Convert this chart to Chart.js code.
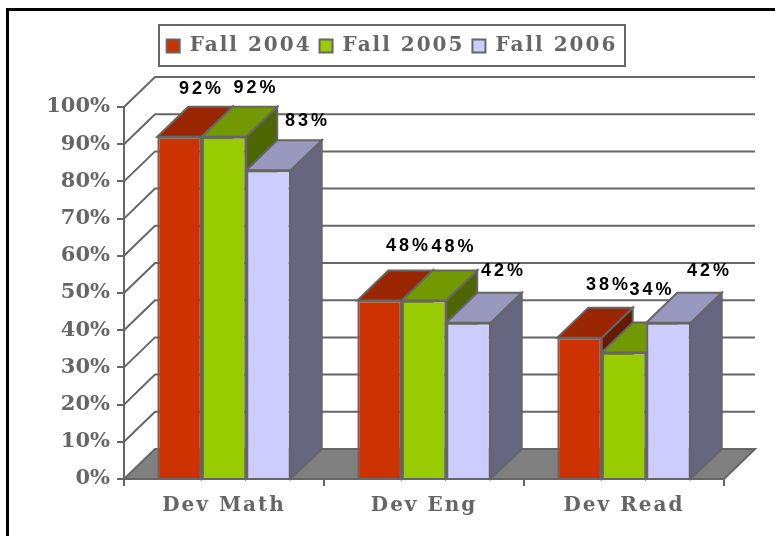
<!DOCTYPE html>
<html>
<head>
<meta charset="utf-8">
<style>
  html, body { margin: 0; padding: 0; background: #fff; }
  canvas { display: block; }
</style>
<script src="https://cdn.jsdelivr.net/npm/chart.js@4"></script>
</head>
<body>
<canvas id="chart" width="775" height="536"></canvas>
<script>
const categories = ['Dev Math', 'Dev Eng', 'Dev Read']
const fall2004 = [92, 48, 38]
const fall2005 = [92, 48, 34]
const fall2006 = [83, 42, 42]
const yTicks = [0, 10, 20, 30, 40, 50, 60, 70, 80, 90, 100]

const grey = '#666666'
const depthX = 31
const depthY = 30

// lighter/darker faces of the fake 3D bars
const faces = [
    { top: '#992600', side: '#661a00' },
    { top: '#739900', side: '#4d6600' },
    { top: '#9999bf', side: '#666680' }
]

// label placement relative to each bar's front-top centre, per dataset/category
const labelShift = [
    [[22, -48], [29, -54], [29, -53]],
    [[32, -49], [30, -53], [28, -62]],
    [[39, -49], [35, -52], [41, -52]]
]

const poly = (ctx, pts, fill) => {
    ctx.beginPath()
    pts.forEach((p, i) => i ? ctx.lineTo(p[0], p[1]) : ctx.moveTo(p[0], p[1]))
    ctx.closePath()
    ctx.fillStyle = fill
    ctx.fill()
    ctx.stroke()
}

const box3d = {
    id: 'box3d',
    beforeLayout(chart) {
        // legend and x labels are spaced out in the original
        chart.ctx.letterSpacing = '2px'
    },
    afterLayout(chart) {
        // legend sits higher than the layout would put it, and right of centre
        const lg = chart.legend
        lg.top = 28
        lg.left += 30
        lg.right += 30
    },
    beforeDraw(chart) {
        const ctx = chart.ctx
        ctx.letterSpacing = '2px'
        ctx.save()
        // only top and left of the outer frame exist
        ctx.strokeStyle = '#000'
        ctx.lineWidth = 3
        ctx.beginPath()
        ctx.moveTo(775, 9.5)
        ctx.lineTo(7.5, 9.5)
        ctx.lineTo(7.5, 536)
        ctx.stroke()
        // legend frame
        ctx.strokeStyle = grey
        ctx.lineWidth = 2
        ctx.strokeRect(159, 25, 466, 41)
        ctx.restore()
    },
    beforeDatasetsDraw(chart) {
        const ctx = chart.ctx
        const y = chart.scales.y
        const left = chart.chartArea.left
        const right = chart.chartArea.right
        const base = y.getPixelForValue(0)

        ctx.save()
        ctx.strokeStyle = grey
        ctx.lineWidth = 2
        ctx.lineJoin = 'miter'

        // floor
        poly(ctx, [[left, base], [left + depthX, base - depthY], [right + depthX, base - depthY], [right, base]], '#808080')

        // back wall lines and the slanted ones on the side wall
        yTicks.slice(1).forEach(v => {
            const py = y.getPixelForValue(v)
            ctx.beginPath()
            ctx.moveTo(left, py)
            ctx.lineTo(left + depthX, py - depthY)
            ctx.lineTo(right + depthX, py - depthY)
            ctx.stroke()
        })

        // top and side of every bar, left to right so later ones cover earlier ones
        chart.data.datasets.forEach((ds, d) => {
            chart.getDatasetMeta(d).data.forEach(bar => {
                const l = bar.x - bar.width / 2
                const r = bar.x + bar.width / 2
                const t = bar.y
                poly(ctx, [[r, t], [r + depthX, t - depthY], [r + depthX, base - depthY], [r, base]], faces[d].side)
                poly(ctx, [[l, t], [l + depthX, t - depthY], [r + depthX, t - depthY], [r, t]], faces[d].top)
            })
        })
        ctx.restore()
    },
    afterDatasetsDraw(chart) {
        const ctx = chart.ctx
        ctx.save()
        ctx.fillStyle = '#000'
        ctx.font = 'bold 18px "Liberation Sans"'
        ctx.letterSpacing = '3px'
        ctx.textAlign = 'center'
        ctx.textBaseline = 'middle'
        chart.data.datasets.forEach((ds, d) => {
            chart.getDatasetMeta(d).data.forEach((bar, i) => {
                const s = labelShift[d][i]
                ctx.fillText(ds.data[i] + '%', bar.x + s[0], bar.y + s[1])
            })
        })
        ctx.restore()
        // y ticks have z 1 so they draw after this, without the extra spacing
        ctx.letterSpacing = '0px'
    }
}

const makeSet = (label, data, color) => ({
    label: label,
    data: data,
    backgroundColor: color,
    borderColor: grey,
    borderWidth: 2,
    categoryPercentage: 0.667,
    barPercentage: 1
})

const serif = '"DejaVu Serif"'

new Chart(document.getElementById('chart'), {
    type: 'bar',
    data: {
        labels: categories,
        datasets: [
            makeSet('Fall 2004', fall2004, '#cc3300'),
            makeSet('Fall 2005', fall2005, '#99cc00'),
            makeSet('Fall 2006', fall2006, '#ccccff')
        ]
    },
    plugins: [box3d],
    options: {
        responsive: false,
        animation: false,
        layout: { padding: { top: 69, right: 51, bottom: 0, left: 0 } },
        plugins: {
            tooltip: { enabled: false },
            legend: {
                position: 'top',
                labels: {
                    color: grey,
                    boxWidth: 13,
                    boxHeight: 13,
                    padding: 8,
                    font: { family: serif, weight: 'bold', size: 20 }
                }
            }
        },
        scales: {
            x: {
                afterFit: s => { s.height = 57 },
                border: { color: grey, width: 2 },
                grid: { drawOnChartArea: false, color: grey, lineWidth: 2, tickLength: 7 },
                ticks: { color: grey, padding: 8, maxRotation: 0, font: { family: serif, weight: 'bold', size: 20 } }
            },
            y: {
                min: 0,
                max: 100,
                afterFit: s => { s.width = 124 },
                afterBuildTicks: s => { s.ticks = yTicks.map(v => ({ value: v })) },
                border: { color: grey, width: 2 },
                grid: { drawOnChartArea: false, color: grey, lineWidth: 2, tickLength: 7 },
                ticks: {
                    z: 1,
                    color: grey,
                    padding: 7,
                    callback: v => v + '%',
                    font: { family: serif, weight: 'bold', size: 21 }
                }
            }
        }
    }
})
</script>
</body>
</html>
